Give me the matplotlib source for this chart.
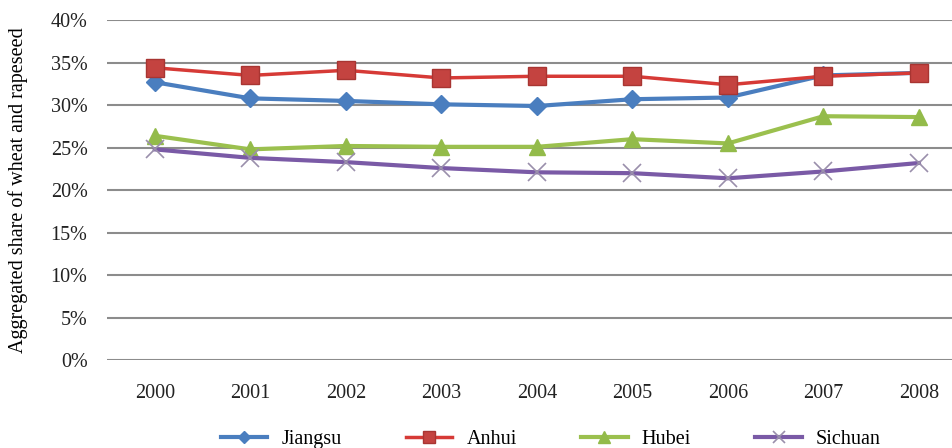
#!/usr/bin/env python

import numpy as np
import matplotlib.pyplot as plt
from matplotlib.ticker import FuncFormatter

years = ['2000', '2001', '2002', '2003', '2004', '2005', '2006', '2007', '2008']
jiangsu = [32.7, 30.8, 30.5, 30.1, 29.9, 30.7, 30.9, 33.5, 33.8]
anhui = [34.4, 33.5, 34.1, 33.2, 33.4, 33.4, 32.4, 33.4, 33.8]
hubei = [26.4, 24.8, 25.2, 25.1, 25.1, 26.0, 25.5, 28.7, 28.6]
sichuan = [24.8, 23.8, 23.3, 22.6, 22.1, 22.0, 21.4, 22.2, 23.2]

plt.rcParams['font.family'] = ['Liberation Serif', 'DejaVu Serif']

fig = plt.figure(figsize = (9.52, 4.48), dpi = 100)
ax = fig.add_axes([0.1124, 0.196, 0.888, 0.759])
xs = np.arange(len(years))

ax.plot(xs, jiangsu, color = '#4a7ebf', lw = 3, marker = 'D', ms = 9,
        mfc = '#4a7ebf', mec = '#4a7ebf', label = 'Jiangsu')
ax.plot(xs, anhui, color = '#d63a36', lw = 2.5, marker = 's', ms = 13,
        mfc = '#c44340', mec = '#a83532', label = 'Anhui')
ax.plot(xs, hubei, color = '#9bc04e', lw = 3, marker = '^', ms = 12,
        mfc = '#93bb4a', mec = '#93bb4a', label = 'Hubei')
ax.plot(xs, sichuan, color = '#7a5aa6', lw = 3, marker = 'x', ms = 13,
        mew = 1.2, mec = '#9a8fab', label = 'Sichuan')

ax.set_ylim(0, 40)
ax.set_yticks(np.arange(0, 41, 5))
ax.yaxis.set_major_formatter(FuncFormatter(lambda v, p: '%d%%' % v))
ax.set_xlim(-0.5, 8.35)
ax.set_xticks(xs)
ax.set_xticklabels(years)
ax.grid(axis = 'y', color = '#8c8c8c', lw = 1.5)
ax.set_axisbelow(True)
for s in ax.spines.values():
    s.set_visible(False)
ax.tick_params(length = 0, labelsize = 14.5, colors = '#222222')
ax.tick_params(axis = 'y', pad = 14)
ax.tick_params(axis = 'x', pad = 17)
ax.set_ylabel('Aggregated share of wheat and rapeseed', fontsize = 14.5)
ax.yaxis.set_label_coords(-0.094, 0.5)

ax.legend(loc = 'center', bbox_to_anchor = (0.525, -0.234), ncol = 4,
          frameon = False, fontsize = 14.5, handlelength = 2.3, columnspacing = 3.2,
          handletextpad = 0.7, markerscale = 0.7)

fig.savefig('out.png')
